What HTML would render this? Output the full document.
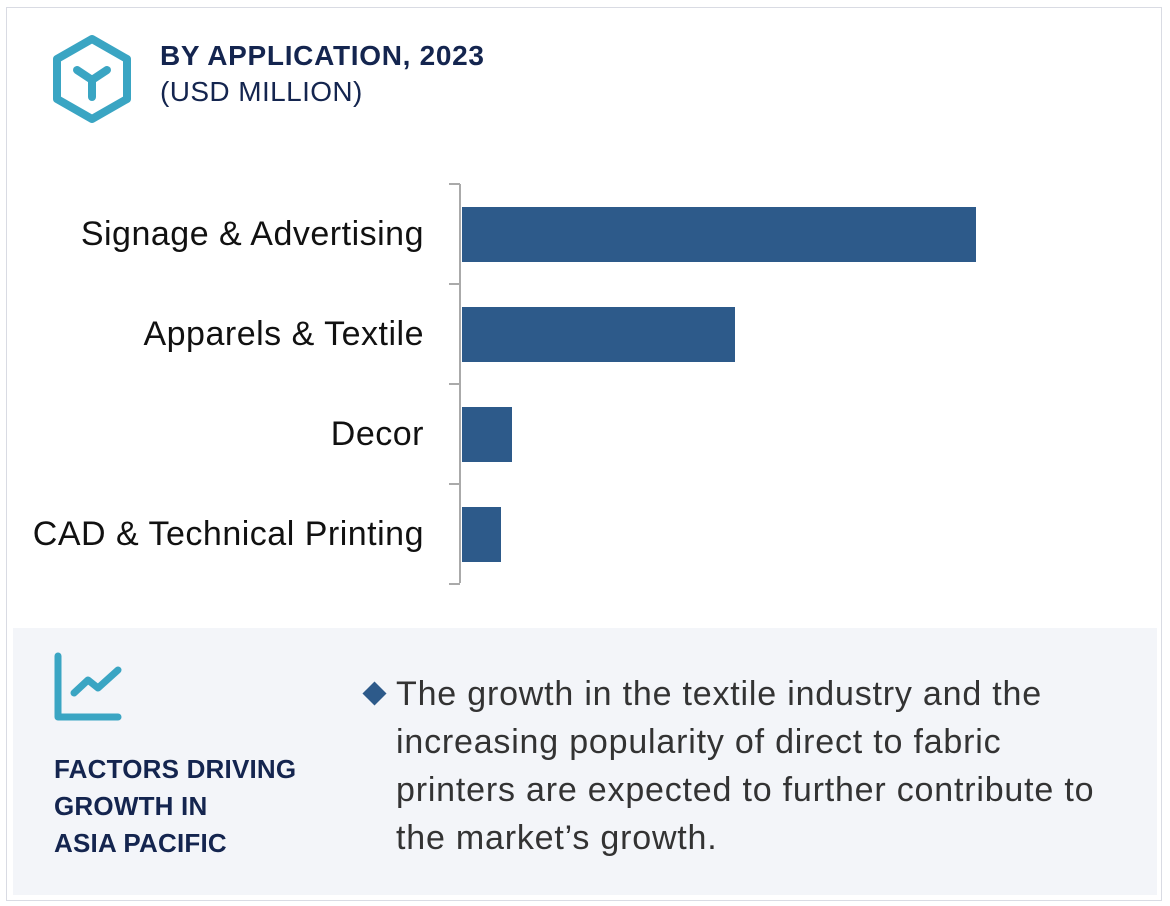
<!DOCTYPE html>
<html><head><meta charset="utf-8"><style>
body{margin:0;width:1170px;height:906px;background:#fff;font-family:"Liberation Sans",sans-serif;position:relative;overflow:hidden}
.frame{position:absolute;left:6px;top:7px;width:1156px;height:894px;border:1.5px solid #d9dbe3;box-sizing:border-box}
.t1{position:absolute;left:160px;top:40px;font-size:28px;font-weight:bold;color:#14254f;letter-spacing:0.7px}
.t2{position:absolute;left:160px;top:76px;font-size:28px;color:#14254f;letter-spacing:0.4px}
.panel{position:absolute;left:13px;top:628px;width:1144px;height:267px;background:#f3f5f9}
.fac{position:absolute;left:54px;top:751px;font-size:26px;font-weight:bold;color:#14254f;line-height:37px;letter-spacing:0.2px}
.txt{position:absolute;left:396px;top:670px;font-size:34px;color:#333;line-height:48px;letter-spacing:0.8px}
.dia{position:absolute;left:366px;top:685px;width:17px;height:17px;background:#2d5a8a;transform:rotate(45deg)}
</style></head><body>
<div class="frame"></div>
<svg style="position:absolute;left:0;top:0" width="200" height="130">
<polygon points="92,39 127,59 127,99 92,119 57,99 57,59" fill="none" stroke="#3aa5c3" stroke-width="8" stroke-linejoin="round"/>
<path d="M77,70 L92,80 L107,70 M92,80 L92,97" fill="none" stroke="#3aa5c3" stroke-width="8" stroke-linecap="round"/>
</svg>
<div class="t1">BY APPLICATION, 2023</div>
<div class="t2">(USD MILLION)</div>
<svg id="chart" style="position:absolute;left:0;top:0" width="1170" height="620"></svg>
<div class="panel"></div>
<svg style="position:absolute;left:0;top:620px" width="140" height="110">
<path d="M58,36 L58,97 L118,97" fill="none" stroke="#3aa5c3" stroke-width="7" stroke-linecap="round" stroke-linejoin="round"/>
<path d="M74,73 L88,60 L98,68 L118,50" fill="none" stroke="#3aa5c3" stroke-width="7" stroke-linecap="round" stroke-linejoin="round"/>
</svg>
<div class="fac">FACTORS DRIVING<br>GROWTH IN<br>ASIA PACIFIC</div>
<div class="dia"></div>
<div class="txt">The growth in the textile industry and the<br>increasing popularity of direct to fabric<br>printers are expected to further contribute to<br>the market’s growth.</div>
<script>
const categories=["Signage & Advertising","Apparels & Textile","Decor","CAD & Technical Printing"];
const values=[1028,546,100,78];
const svg=document.getElementById('chart');
const NS='http://www.w3.org/2000/svg';
const x0=462, pxPerUnit=0.5, top0=184, band=100, barH=55;
function xs(v){return x0+v*pxPerUnit;}
function yb(i){return top0+i*band;}
function mk(t,a){const e=document.createElementNS(NS,t);for(const k in a)e.setAttribute(k,a[k]);svg.appendChild(e);return e;}
const ax=mk('line',{x1:460,y1:top0,x2:460,y2:top0+categories.length*band-1,stroke:'#aaa','stroke-width':2});


for(let i=0;i<=categories.length;i++){
 const tk=mk('line',{x1:449,y1:yb(i),x2:460,y2:yb(i),stroke:'#aaa','stroke-width':2});
 
 
}
categories.forEach((c,i)=>{
 const r=mk('rect',{x:x0,y:yb(i)+23,width:xs(values[i])-x0,height:barH,fill:'#2d5a8a'});
 
 
 const t=mk('text',{x:424,y:yb(i)+61,'text-anchor':'end','font-size':34,'letter-spacing':0.5,fill:'#111','font-family':'Liberation Sans, sans-serif'});
 t.textContent=c;
 
 
});
</script>
</body></html>
